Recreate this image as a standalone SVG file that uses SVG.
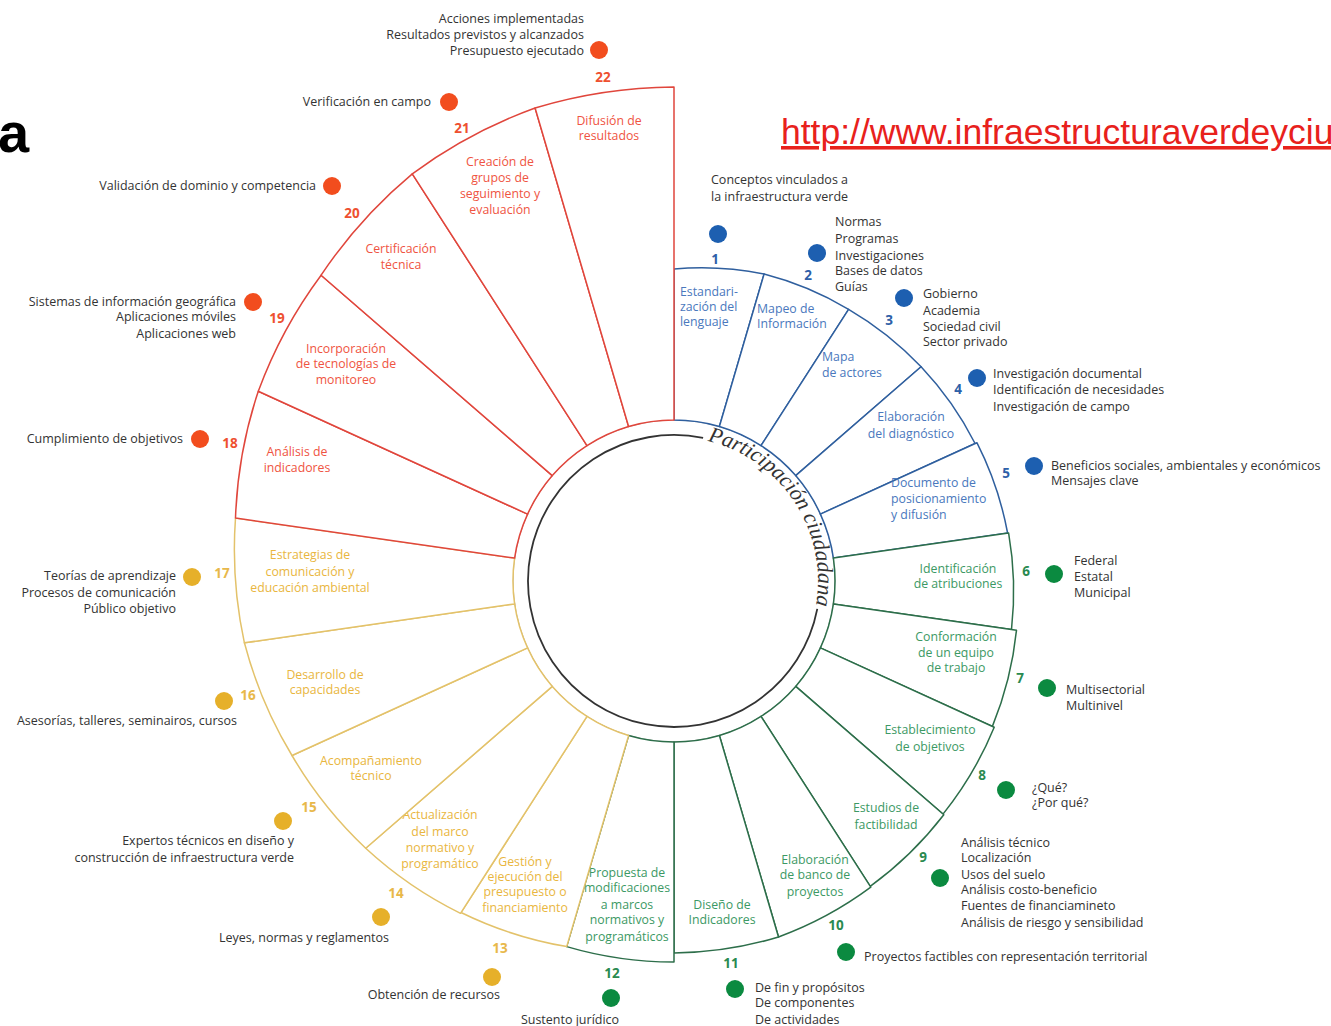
<svg xmlns="http://www.w3.org/2000/svg" width="1331" height="1026" viewBox="0 0 1331 1026">
<style>
.sec{fill:#fff;stroke-width:1.5;stroke-linejoin:round}
.sb{stroke:#2f5f9e}.sg{stroke:#2d6e4a}.sy{stroke:#e3c26a}.sr{stroke:#e0463c}
.lb{font-family:"Open Sans","Liberation Sans",sans-serif;font-size:12.3px;text-anchor:middle}
.ls{text-anchor:start}
.tb{fill:#4a78bd}.tg{fill:#3c9964}.ty{fill:#e9b640}.tr{fill:#ef5442}
.d{font-family:"Open Sans","Liberation Sans",sans-serif;font-size:12.5px;fill:#333}
.e{text-anchor:end}.m{text-anchor:middle}
.n{font-family:"Open Sans","Liberation Sans",sans-serif;font-size:13.5px;font-weight:bold;text-anchor:middle}
.nb{fill:#2e5fa8}.ng{fill:#2a8a50}.ny{fill:#e8b84a}.nr{fill:#ee5030}
.db{fill:#1d5fb0}.dg{fill:#0b8a40}.dy{fill:#e6b02a}.dr{fill:#f24d1e}
</style>
<rect width="1331" height="1026" fill="#fff"/>
<text x="-2" y="152" font-family="Liberation Sans, Arial, sans-serif" font-size="56" font-weight="bold" fill="#000">a</text>
<text x="781" y="144" font-family="Liberation Sans, Arial, sans-serif" font-size="35.5" fill="#e8211c" text-decoration="underline">http://www.infraestructuraverdeyciu</text>

<g id="connectors">
<circle cx="674" cy="581" r="161" fill="none" stroke="#aaa" stroke-width="1"/>
<path d="M817.3,608.9 A146,146 0 1 1 703.1,437.9" fill="none" stroke="#333" stroke-width="1.8"/>
<path id="tp" d="M707.6,441 A144,144 0 0 1 804.5,641.9" fill="none"/>
<text font-family="Liberation Serif, serif" font-style="italic" font-size="22" fill="#333"><textPath href="#tp" textLength="217" lengthAdjust="spacing">Participación ciudadana</textPath></text>
</g>

<g id="s1"><path class="sec sb" d="M674,420 L674,269 A316,316 0 0 1 764.1,274 L719.4,426.5 A161,161 0 0 0 674,420 Z"/>
<text class="lb tb ls" x="680" y="296">Estandari-<tspan x="680" dy="15">zación del</tspan><tspan x="680" dy="15">lenguaje</tspan></text>
<text class="n nb" x="715" y="264">1</text><circle class="db" cx="718" cy="234" r="9"/>
<text class="d" x="711" y="184">Conceptos vinculados a<tspan x="711" dy="17">la infraestructura verde</tspan></text></g>

<g id="s2"><path class="sec sb" d="M719.4,426.5 L764.1,274 A321,321 0 0 1 848.6,309.3 L761,445.6 A161,161 0 0 0 719.4,426.5 Z"/>
<text class="lb tb ls" x="757" y="313">Mapeo de<tspan x="757" dy="15">Información</tspan></text>
<text class="n nb" x="808" y="280">2</text><circle class="db" cx="817" cy="253" r="9"/>
<text class="d" x="835" y="226">Normas<tspan x="835" dy="17">Programas</tspan><tspan x="835" dy="17">Investigaciones</tspan><tspan x="835" dy="15">Bases de datos</tspan><tspan x="835" dy="16">Guías</tspan></text></g>

<g id="s3"><path class="sec sb" d="M761,445.6 L848.6,309.3 A325,325 0 0 1 921.1,366.8 L795.7,475.6 A161,161 0 0 0 761,445.6 Z"/>
<text class="lb tb ls" x="822" y="361">Mapa<tspan x="822" dy="16">de actores</tspan></text>
<text class="n nb" x="889" y="325">3</text><circle class="db" cx="904" cy="298" r="9"/>
<text class="d" x="923" y="298">Gobierno<tspan x="923" dy="17">Academia</tspan><tspan x="923" dy="16">Sociedad civil</tspan><tspan x="923" dy="15">Sector privado</tspan></text></g>

<g id="s4"><path class="sec sb" d="M795.7,475.6 L921.1,366.8 A329,329 0 0 1 975.1,443.5 L820.4,514.1 A161,161 0 0 0 795.7,475.6 Z"/>
<text class="lb tb" x="911" y="421">Elaboración<tspan x="911" dy="17">del diagnóstico</tspan></text>
<text class="n nb" x="958" y="394">4</text><circle class="db" cx="977" cy="378" r="9"/>
<text class="d" x="993" y="378">Investigación documental<tspan x="993" dy="16">Identificación de necesidades</tspan><tspan x="993" dy="17">Investigación de campo</tspan></text></g>

<g id="s5"><path class="sec sb" d="M820.4,514.1 L976.9,442.7 A335,335 0 0 1 1007.6,533 L833.4,558.1 A161,161 0 0 0 820.4,514.1 Z"/>
<text class="lb tb ls" x="891" y="487">Documento de<tspan x="891" dy="16">posicionamiento</tspan><tspan x="891" dy="16">y difusión</tspan></text>
<text class="n nb" x="1006" y="478">5</text><circle class="db" cx="1034" cy="466" r="9"/>
<text class="d" x="1051" y="470">Beneficios sociales, ambientales y económicos<tspan x="1051" dy="15">Mensajes clave</tspan></text></g>

<g id="s6"><path class="sec sg" d="M833.4,558.1 L1008.6,532.9 A340,340 0 0 1 1011.5,629.5 L833.4,603.9 A161,161 0 0 0 833.4,558.1 Z"/>
<text class="lb tg" x="958" y="573">Identificación<tspan x="958" dy="15">de atribuciones</tspan></text>
<text class="n ng" x="1026" y="576">6</text><circle class="dg" cx="1054" cy="574" r="9"/>
<text class="d" x="1074" y="565">Federal<tspan x="1074" dy="16">Estatal</tspan><tspan x="1074" dy="16">Municipal</tspan></text></g>

<g id="s7"><path class="sec sg" d="M833.4,603.9 L1016.5,630.2 A348,348 0 0 1 992.4,726.4 L820.4,647.9 A161,161 0 0 0 833.4,603.9 Z"/>
<text class="lb tg" x="956" y="641">Conformación<tspan x="956" dy="16">de un equipo</tspan><tspan x="956" dy="15">de trabajo</tspan></text>
<text class="n ng" x="1020" y="683">7</text><circle class="dg" cx="1047" cy="688" r="9"/>
<text class="d" x="1066" y="694">Multisectorial<tspan x="1066" dy="16">Multinivel</tspan></text></g>

<g id="s8"><path class="sec sg" d="M820.4,647.9 L994.2,727.2 A354,354 0 0 1 943,814.1 L795.7,686.4 A161,161 0 0 0 820.4,647.9 Z"/>
<text class="lb tg" x="930" y="734">Establecimiento<tspan x="930" dy="17">de objetivos</tspan></text>
<text class="n ng" x="982" y="780">8</text><circle class="dg" cx="1006" cy="790" r="9"/>
<text class="d" x="1032" y="792">¿Qué?<tspan x="1032" dy="15">¿Por qué?</tspan></text></g>

<g id="s9"><path class="sec sg" d="M795.7,686.4 L943.8,814.8 A360,360 0 0 1 870.2,886.4 L761,716.4 A161,161 0 0 0 795.7,686.4 Z"/>
<text class="lb tg" x="886" y="812">Estudios de<tspan x="886" dy="17">factibilidad</tspan></text>
<text class="n ng" x="923" y="862">9</text><circle class="dg" cx="940" cy="878" r="9"/>
<text class="d" x="961" y="847">Análisis técnico<tspan x="961" dy="15">Localización</tspan><tspan x="961" dy="17">Usos del suelo</tspan><tspan x="961" dy="15">Análisis costo-beneficio</tspan><tspan x="961" dy="16">Fuentes de financiamineto</tspan><tspan x="961" dy="17">Análisis de riesgo y sensibilidad</tspan></text></g>

<g id="s10"><path class="sec sg" d="M761,716.4 L870.8,887.2 A367,367 0 0 1 778.5,937 L719.4,735.5 A161,161 0 0 0 761,716.4 Z"/>
<text class="lb tg" x="815" y="864">Elaboración<tspan x="815" dy="15">de banco de</tspan><tspan x="815" dy="17">proyectos</tspan></text>
<text class="n ng" x="836" y="930">10</text><circle class="dg" cx="846" cy="952" r="9"/>
<text class="d" x="864" y="961">Proyectos factibles con representación territorial</text></g>

<g id="s11"><path class="sec sg" d="M719.4,735.5 L778.5,937 A371,371 0 0 1 674,953 L674,742 A161,161 0 0 0 719.4,735.5 Z"/>
<text class="lb tg" x="722" y="909">Diseño de<tspan x="722" dy="15">Indicadores</tspan></text>
<text class="n ng" x="731" y="968">11</text><circle class="dg" cx="735" cy="989" r="9"/>
<text class="d" x="755" y="992">De fin y propósitos<tspan x="755" dy="15">De componentes</tspan><tspan x="755" dy="17">De actividades</tspan></text></g>

<g id="s12"><path class="sec sg" d="M674,742 L674,962 A381,381 0 0 1 566.7,946.6 L628.6,735.5 A161,161 0 0 0 674,742 Z"/>
<text class="lb tg" x="627" y="877">Propuesta de<tspan x="627" dy="15">modificaciones</tspan><tspan x="627" dy="17">a marcos</tspan><tspan x="627" dy="15">normativos y</tspan><tspan x="627" dy="17">programáticos</tspan></text>
<text class="n ng" x="612" y="978">12</text><circle class="dg" cx="611" cy="998" r="9"/>
<text class="d m" x="570" y="1024">Sustento jurídico</text></g>

<g id="s13"><path class="sec sy" d="M628.6,735.5 L566.7,946.6 A387,387 0 0 1 461,912.5 L587,716.4 A161,161 0 0 0 628.6,735.5 Z"/>
<text class="lb ty" x="525" y="866">Gestión y<tspan x="525" dy="15">ejecución del</tspan><tspan x="525" dy="15">presupuesto o</tspan><tspan x="525" dy="16">financiamiento</tspan></text>
<text class="n ny" x="500" y="953">13</text><circle class="dy" cx="492" cy="977" r="9"/>
<text class="d e" x="500" y="999">Obtención de recursos</text></g>

<g id="s14"><path class="sec sy" d="M587,716.4 L460.5,913.3 A401,401 0 0 1 365.7,848.2 L552.3,686.4 A161,161 0 0 0 587,716.4 Z"/>
<text class="lb ty" x="440" y="819">Actualización<tspan x="440" dy="17">del marco</tspan><tspan x="440" dy="16">normativo y</tspan><tspan x="440" dy="16">programático</tspan></text>
<text class="n ny" x="396" y="898">14</text><circle class="dy" cx="381" cy="917" r="9"/>
<text class="d e" x="389" y="942">Leyes, normas y reglamentos</text></g>

<g id="s15"><path class="sec sy" d="M552.3,686.4 L365.7,848.2 A414,414 0 0 1 292,755.5 L527.6,647.9 A161,161 0 0 0 552.3,686.4 Z"/>
<text class="lb ty" x="371" y="765">Acompañamiento<tspan x="371" dy="15">técnico</tspan></text>
<text class="n ny" x="309" y="812">15</text><circle class="dy" cx="283" cy="821" r="9"/>
<text class="d e" x="294" y="845">Expertos técnicos en diseño y<tspan x="294" dy="17">construcción de infraestructura verde</tspan></text></g>

<g id="s16"><path class="sec sy" d="M527.6,647.9 L292,755.5 A427,427 0 0 1 244.4,642.8 L514.6,603.9 A161,161 0 0 0 527.6,647.9 Z"/>
<text class="lb ty" x="325" y="679">Desarrollo de<tspan x="325" dy="15">capacidades</tspan></text>
<text class="n ny" x="248" y="700">16</text><circle class="dy" cx="224" cy="701" r="9"/>
<text class="d e" x="237" y="725">Asesorías, talleres, seminairos, cursos</text></g>

<g id="s17"><path class="sec sy" d="M514.6,603.9 L244.4,642.8 A438,438 0 0 1 235.5,518 L514.6,558.1 A161,161 0 0 0 514.6,603.9 Z"/>
<text class="lb ty" x="310" y="559">Estrategias de<tspan x="310" dy="17">comunicación y</tspan><tspan x="310" dy="16">educación ambiental</tspan></text>
<text class="n ny" x="222" y="578">17</text><circle class="dy" cx="192" cy="577" r="9"/>
<text class="d e" x="176" y="580">Teorías de aprendizaje<tspan x="176" dy="17">Procesos de comunicación</tspan><tspan x="176" dy="16">Público objetivo</tspan></text></g>

<g id="s18"><path class="sec sr" d="M514.6,558.1 L235.5,518 A450,450 0 0 1 258.3,391.2 L527.6,514.1 A161,161 0 0 0 514.6,558.1 Z"/>
<text class="lb tr" x="297" y="456">Análisis de<tspan x="297" dy="16">indicadores</tspan></text>
<text class="n nr" x="230" y="448">18</text><circle class="dr" cx="200" cy="439" r="9"/>
<text class="d e" x="183" y="443">Cumplimiento de objetivos</text></g>

<g id="s19"><path class="sec sr" d="M527.6,514.1 L258.3,391.2 A462,462 0 0 1 321.1,275.2 L552.3,475.6 A161,161 0 0 0 527.6,514.1 Z"/>
<text class="lb tr" x="346" y="353">Incorporación<tspan x="346" dy="15">de tecnologías de</tspan><tspan x="346" dy="16">monitoreo</tspan></text>
<text class="n nr" x="277" y="323">19</text><circle class="dr" cx="253" cy="302" r="9"/>
<text class="d e" x="236" y="306">Sistemas de información geográfica<tspan x="236" dy="15">Aplicaciones móviles</tspan><tspan x="236" dy="17">Aplicaciones web</tspan></text></g>

<g id="s20"><path class="sec sr" d="M552.3,475.6 L321.1,275.2 A475,475 0 0 1 412.3,173.8 L587,445.6 A161,161 0 0 0 552.3,475.6 Z"/>
<text class="lb tr" x="401" y="253">Certificación<tspan x="401" dy="16">técnica</tspan></text>
<text class="n nr" x="352" y="218">20</text><circle class="dr" cx="332" cy="186" r="9"/>
<text class="d e" x="316" y="190">Validación de dominio y competencia</text></g>

<g id="s21"><path class="sec sr" d="M587,445.6 L412.3,173.8 A488,488 0 0 1 535.1,108 L628.6,426.5 A161,161 0 0 0 587,445.6 Z"/>
<text class="lb tr" x="500" y="166">Creación de<tspan x="500" dy="16">grupos de</tspan><tspan x="500" dy="16">seguimiento y</tspan><tspan x="500" dy="16">evaluación</tspan></text>
<text class="n nr" x="462" y="133">21</text><circle class="dr" cx="449" cy="102" r="9"/>
<text class="d e" x="431" y="106">Verificación en campo</text></g>

<g id="s22"><path class="sec sr" d="M628.6,426.5 L535.1,108 A493,493 0 0 1 674,87 L674,420 A161,161 0 0 0 628.6,426.5 Z"/>
<text class="lb tr" x="609" y="125">Difusión de<tspan x="609" dy="15">resultados</tspan></text>
<text class="n nr" x="603" y="82">22</text><circle class="dr" cx="599" cy="50" r="9"/>
<text class="d e" x="584" y="23">Acciones implementadas<tspan x="584" dy="16">Resultados previstos y alcanzados</tspan><tspan x="584" dy="16">Presupuesto ejecutado</tspan></text></g>
</svg>
